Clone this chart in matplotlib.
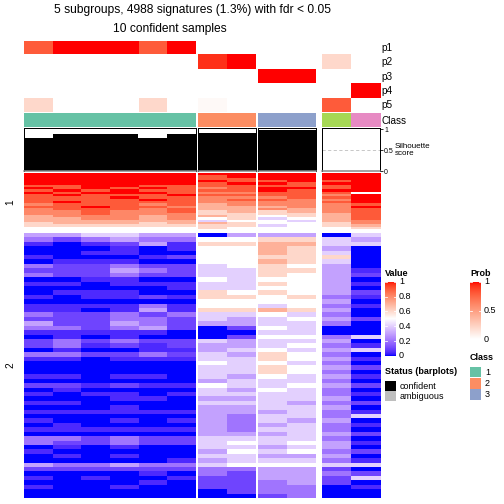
import numpy as np
import matplotlib
matplotlib.use("Agg")
import matplotlib.pyplot as plt
import matplotlib.colors as mcolors

plt.rcParams['font.family'] = ['Liberation Sans', 'DejaVu Sans']

# ---- data ---------------------------------------------------------------
title_main = "5 subgroups, 4988 signatures (1.3%) with fdr < 0.05"
title_sub = "10 confident samples"

col_class = [1, 1, 1, 1, 1, 1, 2, 2, 3, 3, 4, 5]
group_sizes = [6, 2, 2, 2]
class_colors = {1: "#66C2A5", 2: "#FC8D62", 3: "#8DA0CB", 4: "#A6D854", 5: "#E78AC3"}

prob_labels = ["p1", "p2", "p3", "p4", "p5"]
p1 = [0.8, 1, 1, 1, 0.8, 1, 0, 0, 0, 0, 0, 0]
p2 = [0, 0, 0, 0, 0, 0, 0.93, 1, 0, 0, 0.2, 0]
p3 = [0, 0, 0, 0, 0, 0, 0, 0, 1, 1, 0, 0]
p4 = [0, 0, 0, 0, 0, 0, 0, 0, 0, 0, 0, 1]
p5 = [0.2, 0, 0, 0, 0.2, 0, 0.03, 0, 0, 0, 0.8, 0]

silhouette = [0.80, 0.89, 0.89, 0.89, 0.80, 0.89, 0.91, 0.91, 0.98, 0.98, 0, 0]

# heatmap values (x10), slice 1 = up-regulated rows
slice1 = [
    [10, 10, 10, 10, 10, 10, 10, 10, 10, 10, 10, 10],
    [10, 10, 10, 10, 10, 10, 9, 10, 10, 10, 10, 10],
    [10, 10, 10, 10, 10, 10, 9, 9, 10, 10, 10, 10],
    [10, 10, 10, 10, 10, 10, 10, 9, 9, 10, 9, 10],
    [10, 10, 10, 10, 10, 10, 9, 10, 10, 9, 10, 10],
    [9, 9, 10, 10, 9, 9, 9, 9, 9, 9, 9, 10],
    [10, 9, 10, 9, 10, 9, 8, 9, 10, 10, 9, 10],
    [9, 10, 9, 10, 9, 9, 9, 9, 10, 9, 10, 10],
    [10, 9, 10, 10, 10, 9, 8, 8, 9, 9, 9, 5],
    [9, 10, 9, 9, 9, 10, 9, 9, 9, 9, 8, 10],
    [9, 9, 9, 10, 9, 9, 8, 8, 8, 9, 9, 10],
    [9, 9, 9, 9, 10, 9, 8, 9, 9, 8, 8, 10],
    [9, 10, 9, 9, 9, 9, 8, 8, 8, 8, 9, 10],
    [8, 9, 9, 9, 8, 9, 7, 8, 8, 8, 8, 9],
    [9, 9, 10, 9, 9, 8, 7, 7, 7, 8, 8, 10],
    [8, 9, 9, 9, 8, 9, 7, 7, 8, 7, 8, 9],
    [8, 8, 9, 8, 8, 9, 6, 7, 6, 7, 8, 9],
    [8, 8, 9, 8, 8, 8, 6, 6, 6, 6, 7, 9],
    [7, 8, 8, 8, 7, 8, 7, 6, 5, 6, 7, 9],
    [7, 7, 8, 8, 7, 8, 5, 6, 4, 5, 7, 9],
    [7, 7, 7, 7, 7, 7, 4, 5, 5, 4, 7, 8],
    [6, 7, 7, 7, 6, 7, 7, 6, 5, 5, 6, 8],
    [6, 6, 6, 6, 6, 6, 6, 6, 4, 5, 6, 7],
    [5, 5, 5, 5, 5, 5, 6, 5, 5, 5, 5, 6],
]

# slice 2 = down-regulated rows
slice2 = [
    [3, 3, 4, 4, 3, 3, 0, 3, 3, 3, 0, 4],
    [2, 1, 2, 3, 2, 2, 5, 5, 6, 6, 4, 3],
    [0.5, 0, 0.5, 1, 3, 0.5, 6, 6, 7, 7, 4, 4],
    [0, 0, 0, 0.5, 0, 0.5, 5, 5, 7, 6, 3, 0],
    [0, 0, 0.5, 0.5, 0, 0, 5, 5, 7, 6, 4, 0],
    [0.5, 0, 0, 0, 0.5, 1, 5, 5, 6, 6, 6, 0],
    [0, 0.5, 0.5, 0.5, 0, 0, 5, 5, 7, 6, 4, 0],
    [2, 1, 1, 2, 1, 1, 4, 5, 6, 5, 3, 0],
    [1, 1, 1, 3, 2, 1, 4, 4, 6, 6, 3, 0.5],
    [2, 1, 1, 2, 1, 1, 4, 4, 6, 5, 3, 1],
    [0, 0, 0.5, 0.5, 0, 0, 5, 4, 5, 5, 3, 0],
    [0.5, 0.5, 0, 0.5, 0.5, 0.5, 4, 4, 6, 5, 3, 0.5],
    [0, 0, 0, 0, 0, 0.5, 4, 4, 5, 5, 3, 0],
    [0, 0.5, 0.5, 0.5, 0, 0, 6, 5, 6, 5, 3, 1],
    [0.5, 0, 0.5, 0.5, 1, 0.5, 6, 6, 5, 6, 2, 0.5],
    [0, 0, 0, 0, 0, 0, 5, 5, 5, 5, 3, 0],
    [0.5, 0.5, 0.5, 0.5, 2, 0.5, 5, 5, 4, 5, 2, 0.5],
    [0.5, 0.5, 0, 0.5, 3, 0.5, 6, 6, 7, 6, 3, 0],
    [2, 1, 1, 2, 1, 2, 4, 4, 5, 4, 2, 0],
    [1, 1, 1, 2, 2, 1, 4, 3, 4, 5, 3, 1],
    [3, 1, 1, 3, 2, 1, 3, 3, 4, 4, 2, 0],
    [2, 2, 1, 2, 3, 1, 0, 1, 5, 4, 0, 0],
    [0.5, 0.5, 0.5, 0.5, 0.5, 0, 0, 0, 4, 4, 0, 0],
    [0, 0.5, 0, 0.5, 0, 0, 0, 1, 5, 5, 2, 4],
    [1, 2, 1, 2, 1, 1, 4, 3, 4, 4, 3, 0],
    [1, 2, 0.5, 1, 0.5, 1, 3, 3, 4, 5, 2, 0.5],
    [0, 0.5, 0, 0, 0.5, 0.5, 3, 4, 5, 4, 3, 4],
    [2, 2, 1, 1, 2, 1, 4, 3, 6, 5, 2, 0],
    [0.5, 0.5, 0, 0.5, 0.5, 0.5, 4, 4, 6, 5, 3, 0.5],
    [0, 0, 0, 0, 0, 0, 5, 4, 5, 4, 2, 0],
    [0, 0, 0, 0, 0, 0, 4, 4, 6, 5, 3, 1],
    [0, 0, 0, 0, 0, 0, 4, 4, 6, 5, 2, 0],
    [0.5, 0.5, 0, 0.5, 0.5, 0, 4, 3, 5, 4, 3, 0.5],
    [0, 0, 0, 0, 0, 0, 3, 4, 4, 4, 2, 0],
    [1, 1, 0.5, 1, 0.5, 0.5, 5, 4, 4, 5, 3, 1],
    [0, 0.5, 0, 0, 0, 0, 4, 3, 5, 4, 2, 0],
    [0.5, 0, 0.5, 0.5, 0, 0.5, 4, 4, 4, 4, 2, 0.5],
    [0, 0, 0, 0.5, 0.5, 0, 3, 3, 4, 4, 3, 0],
    [0.5, 0.5, 0, 0, 0, 0, 4, 4, 4, 3, 2, 1],
    [0, 0, 0, 0.5, 0, 0, 3, 3, 4, 4, 3, 0],
    [0.5, 0.5, 0.5, 0.5, 0.5, 0.5, 3, 3, 3, 4, 2, 0.5],
    [0, 0, 0, 0, 0, 0, 3, 2, 4, 4, 2, 4],
    [0.5, 0, 0, 0.5, 0, 0.5, 3, 2, 4, 3, 3, 0],
    [0, 0.5, 0, 0, 0, 0, 3, 2, 3, 4, 2, 0.5],
    [0.5, 0.5, 0.5, 0.5, 0.5, 0.5, 3, 2, 4, 4, 2, 0],
    [0, 0, 0, 0, 0, 0, 3, 3, 3, 4, 3, 1],
    [2, 2, 1, 2, 1, 1, 4, 4, 4, 4, 2, 0],
    [2, 1, 1, 2, 1, 1, 4, 5, 4, 5, 3, 0.5],
    [0, 0.5, 0, 0.5, 0, 0, 4, 4, 3, 4, 3, 0],
    [0.5, 0, 0, 0, 0, 0, 3, 5, 4, 5, 2, 1],
    [0, 0.5, 0, 0.5, 0, 0, 4, 4, 3, 3, 3, 0],
    [0, 0, 0, 0, 0, 0.5, 3, 4, 4, 4, 2, 0.5],
    [3, 2, 2, 3, 2, 2, 4, 5, 5, 5, 4, 4],
    [1, 1, 1, 1, 1, 1, 2, 2, 3, 3, 1, 0],
    [0, 0, 0, 0, 0.5, 0, 2, 1, 3, 3, 2, 1],
    [0.5, 0, 0.5, 0, 0, 0.5, 1, 1, 3, 3, 1, 4],
    [0, 0, 0, 0, 0.5, 0, 1, 1, 2, 3, 1, 0],
    [0.5, 0, 0, 0.5, 0, 0, 1, 1, 2, 2, 0, 0.5],
    [0, 0, 0, 0, 0, 0, 0, 1, 2, 2, 0, 0],
    [0, 0, 0, 0, 0, 0, 0, 0, 1, 2, 0, 0],
]

# ---- colour ramps (LAB interpolation like circlize) ---------------------
M = np.array([[0.4124564, 0.3575761, 0.1804375],
              [0.2126729, 0.7151522, 0.0721750],
              [0.0193339, 0.1191920, 0.9503041]])
WHITE_REF = M.sum(axis=1)


def to_lab(c):
    c = np.asarray(mcolors.to_rgb(c))
    lin = np.where(c <= 0.04045, c / 12.92, ((c + 0.055) / 1.055) ** 2.4)
    xyz = M @ lin / WHITE_REF
    f = np.where(xyz > 0.008856, np.cbrt(xyz), 7.787 * xyz + 16 / 116)
    return np.array([116 * f[1] - 16, 500 * (f[0] - f[1]), 200 * (f[1] - f[2])])


def from_lab(lab):
    L, a, b = lab.T
    fy = (L + 16) / 116
    f = np.stack([fy + a / 500, fy, fy - b / 200], 1)
    xyz = np.where(f ** 3 > 0.008856, f ** 3, (f - 16 / 116) / 7.787) * WHITE_REF
    lin = np.clip(xyz @ np.linalg.inv(M).T, 0, 1)
    return np.where(lin <= 0.0031308, 12.92 * lin, 1.055 * lin ** (1 / 2.4) - 0.055)


def lab_ramp(anchors, n=256):
    labs = np.array([to_lab(c) for c in anchors])
    t = np.linspace(0, 1, n) * (len(anchors) - 1)
    i = np.minimum(t.astype(int), len(anchors) - 2)
    w = (t - i)[:, None]
    lab = labs[i] * (1 - w) + labs[i + 1] * w
    rgb = np.clip(from_lab(lab), 0, 1)
    rgb[np.abs(w[:, 0]) < 1e-9] = [mcolors.to_rgb(anchors[k]) for k in i[np.abs(w[:, 0]) < 1e-9]]
    rgb[-1] = mcolors.to_rgb(anchors[-1])
    return mcolors.ListedColormap(rgb)


value_cmap = lab_ramp(["blue", "white", "red"], n=255)
prob_cmap = lab_ramp(["white", "red"])

# ---- layout (pixel coordinates, origin top-left) ------------------------
W = H = 504
fig = plt.figure(figsize=(7, 7), dpi=72)


def px_axes(x0, y0, x1, y1):
    ax = fig.add_axes([x0 / W, 1 - y1 / H, (x1 - x0) / W, (y1 - y0) / H])
    return ax


def px_text(x, y, s, **kw):
    fig.text(x / W, 1 - y / H, s, **kw)


group_x = [(24, 195.6), (198.3, 255.5), (258.3, 315.5), (321.7, 380)]
col_start = np.cumsum([0] + group_sizes)

prob_mat = np.array([p1, p2, p3, p4, p5])
s1 = np.array(slice1) / 10
s2 = np.array(slice2) / 10

for g, (x0, x1) in enumerate(group_x):
    c0, c1 = col_start[g], col_start[g + 1]

    ax = px_axes(x0, 40.7, x1, 112)
    ax.imshow(prob_mat[:, c0:c1], cmap=prob_cmap, vmin=0, vmax=1,
              aspect='auto', interpolation='nearest')
    ax.axis('off')

    ax = px_axes(x0, 113.3, x1, 127)
    rgb = np.array([[mcolors.to_rgb(class_colors[k]) for k in col_class[c0:c1]]])
    ax.imshow(rgb, aspect='auto', interpolation='nearest')
    ax.axis('off')

    ax = px_axes(x0, 128.3, x1, 171)
    n = c1 - c0
    ax.axhline(0.5, color='#BBBBBB', lw=0.8, ls=(0, (4, 3)), zorder=1)
    ax.bar(np.arange(n), silhouette[c0:c1], width=1.0, color='black', zorder=2)
    ax.set_xlim(-0.5, n - 0.5)
    ax.set_ylim(0, 1.02)
    ax.set_xticks([])
    ax.set_yticks([])
    for sp in ax.spines.values():
        sp.set_color('black')
        sp.set_linewidth(1)
    ax.spines['bottom'].set_color('#888888')
    ax.spines['bottom'].set_linewidth(1.5)
    if g == 3:
        ax.yaxis.tick_right()
        ax.set_yticks([0, 0.5, 1])
        ax.set_yticklabels(['0', '0.5', '1'], fontsize=7)
        ax.tick_params(axis='y', length=3, pad=1)

    ax = px_axes(x0, 173.3, x1, 229.3)
    ax.imshow(s1[:, c0:c1], cmap=value_cmap, vmin=0, vmax=1,
              aspect='auto', interpolation='nearest')
    ax.axis('off')

    ax = px_axes(x0, 233.3, x1, 498)
    ax.imshow(s2[:, c0:c1], cmap=value_cmap, vmin=0, vmax=1,
              aspect='auto', interpolation='nearest')
    ax.axis('off')

# ---- titles and labels --------------------------------------------------
px_text(193, 10, title_main, fontsize=12, ha='center', va='center')
px_text(170, 29, title_sub, fontsize=12, ha='center', va='center')

for i, lab in enumerate(prob_labels):
    px_text(381, 48 + 14.25 * i, lab, fontsize=10, ha='left', va='center')
px_text(381, 121, "Class", fontsize=10, ha='left', va='center')
px_text(395, 150, "Silhouette\nscore", fontsize=8, ha='left', va='center',
        linespacing=1.0)

px_text(10, 202, "1", fontsize=10, rotation=90, ha='center', va='center')
px_text(10, 365, "2", fontsize=10, rotation=90, ha='center', va='center')

# ---- legends ------------------------------------------------------------
grad = np.linspace(1, 0, 256)[:, None]

px_text(385, 274, "Value", fontsize=9, fontweight='bold', ha='left', va='center')
ax = px_axes(385, 281.7, 396, 356)
ax.imshow(grad, cmap=value_cmap, vmin=0, vmax=1, aspect='auto',
          extent=[0, 1, 0, 1])
for v in [0, 0.2, 0.4, 0.6, 0.8, 1.0]:
    ax.plot([0, 0.2], [v, v], color='white', lw=0.8)
    ax.plot([0.8, 1], [v, v], color='white', lw=0.8)
    px_text(399, 356 - 74.3 * v, f"{v:g}", fontsize=9, ha='left', va='center')
ax.set_xlim(0, 1)
ax.set_ylim(0, 1)
ax.axis('off')

px_text(470, 274, "Prob", fontsize=9, fontweight='bold', ha='left', va='center')
ax = px_axes(470, 282, 481, 339)
ax.imshow(grad, cmap=prob_cmap, vmin=0, vmax=1, aspect='auto',
          extent=[0, 1, 0, 1])
for v in [0, 0.5, 1.0]:
    ax.plot([0, 0.2], [v, v], color='white', lw=0.8)
    ax.plot([0.8, 1], [v, v], color='white', lw=0.8)
    px_text(484, 339 - 57 * v, f"{v:g}", fontsize=9, ha='left', va='center')
ax.set_xlim(0, 1)
ax.set_ylim(0, 1)
ax.axis('off')

px_text(470, 358, "Class", fontsize=9, fontweight='bold', ha='left', va='center')
for i, k in enumerate([1, 2, 3]):
    y0 = 366.7 + 11.3 * i
    ax = px_axes(470, y0, 481, y0 + 10.5)
    ax.set_facecolor(class_colors[k])
    ax.set_xticks([])
    ax.set_yticks([])
    for sp in ax.spines.values():
        sp.set_visible(False)
    px_text(485, y0 + 5.5, str(k), fontsize=9, ha='left', va='center')

px_text(385, 371, "Status (barplots)", fontsize=9, fontweight='bold', ha='left', va='center')
for i, (lab, col) in enumerate([("confident", "black"), ("ambiguous", "#BEBEBE")]):
    y0 = 380.7 + 10.5 * i
    ax = px_axes(385, y0, 396, y0 + 10)
    ax.set_facecolor(col)
    ax.set_xticks([])
    ax.set_yticks([])
    for sp in ax.spines.values():
        sp.set_visible(False)
    px_text(400, y0 + 5.5, lab, fontsize=9, ha='left', va='center')

fig.savefig("out.png", dpi=72)
